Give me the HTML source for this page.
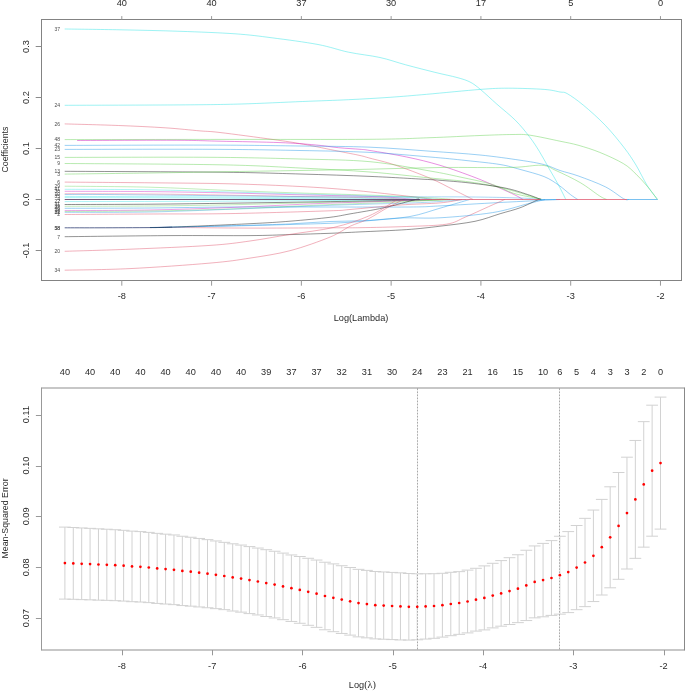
<!DOCTYPE html>
<html><head><meta charset="utf-8"><title>glmnet</title>
<style>html,body{margin:0;padding:0;background:#fff;}body{width:685px;height:691px;position:relative;overflow:hidden;font-family:"Liberation Sans",sans-serif;}</style>
</head><body>
<svg width="685" height="691" viewBox="0 0 685 691" style="position:absolute;left:0;top:0;will-change:transform"><rect x="0" y="0" width="685" height="691" fill="#fff"/><g stroke="#d2d2d2" stroke-width="1" fill="none"><path d="M64.90 527.10V599.10M59.00 527.10H70.80M59.00 599.10H70.80"/><path d="M73.29 527.49V599.31M67.39 527.49H79.19M67.39 599.31H79.19"/><path d="M81.68 527.98V599.62M75.78 527.98H87.58M75.78 599.62H87.58"/><path d="M90.07 528.37V599.83M84.17 528.37H95.97M84.17 599.83H95.97"/><path d="M98.46 528.85V600.15M92.56 528.85H104.36M92.56 600.15H104.36"/><path d="M106.84 529.24V600.36M100.94 529.24H112.75M100.94 600.36H112.75"/><path d="M115.23 529.73V600.67M109.33 529.73H121.13M109.33 600.67H121.13"/><path d="M123.62 530.32V601.08M117.72 530.32H129.52M117.72 601.08H129.52"/><path d="M132.01 531.11V601.69M126.11 531.11H137.91M126.11 601.69H137.91"/><path d="M140.40 531.60V602.00M134.50 531.60H146.30M134.50 602.00H146.30"/><path d="M148.79 532.38V602.62M142.89 532.38H154.69M142.89 602.62H154.69"/><path d="M157.18 533.37V603.43M151.28 533.37H163.08M151.28 603.43H163.08"/><path d="M165.57 534.16V604.04M159.67 534.16H171.47M159.67 604.04H171.47"/><path d="M173.96 534.95V604.65M168.06 534.95H179.86M168.06 604.65H179.86"/><path d="M182.35 536.25V605.55M176.45 536.25H188.25M176.45 605.55H188.25"/><path d="M190.74 537.25V606.15M184.84 537.25H196.64M184.84 606.15H196.64"/><path d="M199.12 538.45V606.95M193.22 538.45H205.02M193.22 606.95H205.02"/><path d="M207.51 539.65V607.75M201.61 539.65H213.41M201.61 607.75H213.41"/><path d="M215.90 540.95V608.65M210.00 540.95H221.80M210.00 608.65H221.80"/><path d="M224.29 542.35V609.65M218.39 542.35H230.19M218.39 609.65H230.19"/><path d="M232.68 543.80V611.00M226.78 543.80H238.58M226.78 611.00H238.58"/><path d="M241.07 545.05V612.15M235.17 545.05H246.97M235.17 612.15H246.97"/><path d="M249.46 546.60V613.60M243.56 546.60H255.36M243.56 613.60H255.36"/><path d="M257.85 548.05V614.95M251.95 548.05H263.75M251.95 614.95H263.75"/><path d="M266.24 549.70V616.50M260.34 549.70H272.14M260.34 616.50H272.14"/><path d="M274.62 551.25V617.95M268.73 551.25H280.52M268.73 617.95H280.52"/><path d="M283.01 553.10V619.70M277.11 553.10H288.91M277.11 619.70H288.91"/><path d="M291.40 554.95V621.45M285.50 554.95H297.30M285.50 621.45H297.30"/><path d="M299.79 556.52V623.28M293.89 556.52H305.69M293.89 623.28H305.69"/><path d="M308.18 558.29V625.31M302.28 558.29H314.08M302.28 625.31H314.08"/><path d="M316.57 560.06V627.34M310.67 560.06H322.47M310.67 627.34H322.47"/><path d="M324.96 562.23V629.77M319.06 562.23H330.86M319.06 629.77H330.86"/><path d="M333.35 563.90V631.70M327.45 563.90H339.25M327.45 631.70H339.25"/><path d="M341.74 565.74V633.46M335.84 565.74H347.64M335.84 633.46H347.64"/><path d="M350.13 567.49V635.11M344.23 567.49H356.03M344.23 635.11H356.03"/><path d="M358.51 569.33V636.87M352.62 569.33H364.41M352.62 636.87H364.41"/><path d="M366.90 570.38V637.83M361.00 570.38H372.80M361.00 637.83H372.80"/><path d="M375.29 571.52V638.88M369.39 571.52H381.19M369.39 638.88H381.19"/><path d="M383.68 571.96V639.24M377.78 571.96H389.58M377.78 639.24H389.58"/><path d="M392.07 572.41V639.59M386.17 572.41H397.97M386.17 639.59H397.97"/><path d="M400.46 572.85V639.95M394.56 572.85H406.36M394.56 639.95H406.36"/><path d="M408.85 573.52V640.07M402.95 573.52H414.75M402.95 640.07H414.75"/><path d="M417.24 573.80V639.80M411.34 573.80H423.14M411.34 639.80H423.14"/><path d="M425.63 573.75V639.05M419.73 573.75H431.53M419.73 639.05H431.53"/><path d="M434.02 573.70V638.30M428.12 573.70H439.92M428.12 638.30H439.92"/><path d="M442.40 573.30V637.10M436.50 573.30H448.30M436.50 637.10H448.30"/><path d="M450.79 572.30V635.70M444.89 572.30H456.69M444.89 635.70H456.69"/><path d="M459.18 571.65V634.35M453.28 571.65H465.08M453.28 634.35H465.08"/><path d="M467.57 570.10V632.90M461.67 570.10H473.47M461.67 632.90H473.47"/><path d="M475.96 568.30V631.10M470.06 568.30H481.86M470.06 631.10H481.86"/><path d="M484.35 565.90V629.90M478.45 565.90H490.25M478.45 629.90H490.25"/><path d="M492.74 563.30V627.90M486.84 563.30H498.64M486.84 627.90H498.64"/><path d="M501.13 560.60V626.20M495.23 560.60H507.03M495.23 626.20H507.03"/><path d="M509.52 557.70V624.50M503.62 557.70H515.42M503.62 624.50H515.42"/><path d="M517.91 554.75V622.65M512.01 554.75H523.81M512.01 622.65H523.81"/><path d="M526.29 550.25V620.55M520.39 550.25H532.19M520.39 620.55H532.19"/><path d="M534.68 545.95V617.85M528.78 545.95H540.58M528.78 617.85H540.58"/><path d="M543.07 543.40V616.80M537.17 543.40H548.97M537.17 616.80H548.97"/><path d="M551.46 540.60V615.40M545.56 540.60H557.36M545.56 615.40H557.36"/><path d="M559.85 536.25V614.15M553.95 536.25H565.75M553.95 614.15H565.75"/><path d="M568.24 531.60V612.60M562.34 531.60H574.14M562.34 612.60H574.14"/><path d="M576.63 525.50V609.70M570.73 525.50H582.53M570.73 609.70H582.53"/><path d="M585.02 518.35V606.65M579.12 518.35H590.92M579.12 606.65H590.92"/><path d="M593.41 510.05V601.55M587.51 510.05H599.31M587.51 601.55H599.31"/><path d="M601.80 499.40V595.00M595.90 499.40H607.70M595.90 595.00H607.70"/><path d="M610.18 486.80V587.80M604.28 486.80H616.08M604.28 587.80H616.08"/><path d="M618.57 472.50V579.30M612.67 472.50H624.47M612.67 579.30H624.47"/><path d="M626.96 457.20V569.00M621.06 457.20H632.86M621.06 569.00H632.86"/><path d="M635.35 440.45V558.35M629.45 440.45H641.25M629.45 558.35H641.25"/><path d="M643.74 421.65V547.15M637.84 421.65H649.64M637.84 547.15H649.64"/><path d="M652.13 405.20V536.20M646.23 405.20H658.03M646.23 536.20H658.03"/><path d="M660.52 397.10V529.10M654.62 397.10H666.42M654.62 529.10H666.42"/></g><path d="M417.5 388.0V650.0M559.5 388.0V650.0" stroke="#ececec" stroke-width="1"/><g stroke="#a8a8a8" stroke-width="1" stroke-dasharray="1.5 1.55" stroke-dashoffset="-0.45"><path d="M417.5 388.0V650.0M559.5 388.0V650.0"/></g><g fill="#ff0000"><circle cx="64.90" cy="563.10" r="1.35"/><circle cx="73.29" cy="563.40" r="1.35"/><circle cx="81.68" cy="563.80" r="1.35"/><circle cx="90.07" cy="564.10" r="1.35"/><circle cx="98.46" cy="564.50" r="1.35"/><circle cx="106.84" cy="564.80" r="1.35"/><circle cx="115.23" cy="565.20" r="1.35"/><circle cx="123.62" cy="565.70" r="1.35"/><circle cx="132.01" cy="566.40" r="1.35"/><circle cx="140.40" cy="566.80" r="1.35"/><circle cx="148.79" cy="567.50" r="1.35"/><circle cx="157.18" cy="568.40" r="1.35"/><circle cx="165.57" cy="569.10" r="1.35"/><circle cx="173.96" cy="569.80" r="1.35"/><circle cx="182.35" cy="570.90" r="1.35"/><circle cx="190.74" cy="571.70" r="1.35"/><circle cx="199.12" cy="572.70" r="1.35"/><circle cx="207.51" cy="573.70" r="1.35"/><circle cx="215.90" cy="574.80" r="1.35"/><circle cx="224.29" cy="576.00" r="1.35"/><circle cx="232.68" cy="577.40" r="1.35"/><circle cx="241.07" cy="578.60" r="1.35"/><circle cx="249.46" cy="580.10" r="1.35"/><circle cx="257.85" cy="581.50" r="1.35"/><circle cx="266.24" cy="583.10" r="1.35"/><circle cx="274.62" cy="584.60" r="1.35"/><circle cx="283.01" cy="586.40" r="1.35"/><circle cx="291.40" cy="588.20" r="1.35"/><circle cx="299.79" cy="589.90" r="1.35"/><circle cx="308.18" cy="591.80" r="1.35"/><circle cx="316.57" cy="593.70" r="1.35"/><circle cx="324.96" cy="596.00" r="1.35"/><circle cx="333.35" cy="597.80" r="1.35"/><circle cx="341.74" cy="599.60" r="1.35"/><circle cx="350.13" cy="601.30" r="1.35"/><circle cx="358.51" cy="603.10" r="1.35"/><circle cx="366.90" cy="604.10" r="1.35"/><circle cx="375.29" cy="605.20" r="1.35"/><circle cx="383.68" cy="605.60" r="1.35"/><circle cx="392.07" cy="606.00" r="1.35"/><circle cx="400.46" cy="606.40" r="1.35"/><circle cx="408.85" cy="606.80" r="1.35"/><circle cx="417.24" cy="606.80" r="1.35"/><circle cx="425.63" cy="606.40" r="1.35"/><circle cx="434.02" cy="606.00" r="1.35"/><circle cx="442.40" cy="605.20" r="1.35"/><circle cx="450.79" cy="604.00" r="1.35"/><circle cx="459.18" cy="603.00" r="1.35"/><circle cx="467.57" cy="601.50" r="1.35"/><circle cx="475.96" cy="599.70" r="1.35"/><circle cx="484.35" cy="597.90" r="1.35"/><circle cx="492.74" cy="595.60" r="1.35"/><circle cx="501.13" cy="593.40" r="1.35"/><circle cx="509.52" cy="591.10" r="1.35"/><circle cx="517.91" cy="588.70" r="1.35"/><circle cx="526.29" cy="585.40" r="1.35"/><circle cx="534.68" cy="581.90" r="1.35"/><circle cx="543.07" cy="580.10" r="1.35"/><circle cx="551.46" cy="578.00" r="1.35"/><circle cx="559.85" cy="575.20" r="1.35"/><circle cx="568.24" cy="572.10" r="1.35"/><circle cx="576.63" cy="567.60" r="1.35"/><circle cx="585.02" cy="562.50" r="1.35"/><circle cx="593.41" cy="555.80" r="1.35"/><circle cx="601.80" cy="547.20" r="1.35"/><circle cx="610.18" cy="537.30" r="1.35"/><circle cx="618.57" cy="525.90" r="1.35"/><circle cx="626.96" cy="513.10" r="1.35"/><circle cx="635.35" cy="499.40" r="1.35"/><circle cx="643.74" cy="484.40" r="1.35"/><circle cx="652.13" cy="470.70" r="1.35"/><circle cx="660.52" cy="463.10" r="1.35"/></g><path d="M64.70 29.00 C73.92 29.13 100.78 29.42 120.00 29.80 C139.22 30.18 160.83 30.63 180.00 31.30 C199.17 31.97 219.67 32.72 235.00 33.80 C250.33 34.88 258.17 36.02 272.00 37.80 C285.83 39.58 305.23 42.10 318.00 44.50 C330.77 46.90 338.27 50.03 348.60 52.20 C358.93 54.37 370.48 55.40 380.00 57.50 C389.52 59.60 396.37 62.28 405.70 64.80 C415.03 67.32 427.45 70.48 436.00 72.60 C444.55 74.72 451.33 75.93 457.00 77.50 C462.67 79.07 466.10 80.02 470.00 82.00 C473.90 83.98 475.93 85.72 480.40 89.40 C484.87 93.08 490.95 98.93 496.80 104.10 C502.65 109.27 510.05 114.95 515.50 120.40 C520.95 125.85 525.53 131.65 529.50 136.80 C533.47 141.95 536.07 146.07 539.30 151.30 C542.53 156.53 545.70 162.58 548.90 168.20 C552.10 173.82 555.68 179.78 558.50 185.00 C561.32 190.22 564.58 197.08 565.80 199.50" fill="none" stroke="#28E2E5" stroke-width="1.0" stroke-opacity="0.45" stroke-linejoin="round"/><path d="M64.70 105.30 C83.92 105.23 150.62 105.12 180.00 104.90 C209.38 104.68 220.57 104.57 241.00 104.00 C261.43 103.43 284.67 102.22 302.60 101.50 C320.53 100.78 334.03 100.40 348.60 99.70 C363.17 99.00 376.98 98.20 390.00 97.30 C403.02 96.40 411.63 95.62 426.70 94.30 C441.77 92.98 466.77 90.42 480.40 89.40 C494.03 88.38 497.88 88.20 508.50 88.20 C519.12 88.20 535.52 88.77 544.10 89.40 C552.68 90.03 556.15 91.30 560.00 92.00 C563.85 92.70 563.28 91.38 567.20 93.60 C571.12 95.82 577.15 100.02 583.50 105.30 C589.85 110.58 598.50 118.20 605.30 125.30 C612.10 132.40 619.18 141.27 624.30 147.90 C629.42 154.53 632.23 158.92 636.00 165.10 C639.77 171.28 643.32 179.27 646.90 185.00 C650.48 190.73 655.73 197.08 657.50 199.50" fill="none" stroke="#28E2E5" stroke-width="1.0" stroke-opacity="0.45" stroke-linejoin="round"/><path d="M64.70 123.90 C73.65 124.17 101.67 124.85 118.40 125.50 C135.13 126.15 151.47 126.90 165.10 127.80 C178.73 128.70 191.05 130.12 200.20 130.90 C209.35 131.68 207.87 131.07 220.00 132.50 C232.13 133.93 259.10 137.55 273.00 139.50 C286.90 141.45 292.48 142.25 303.40 144.20 C314.32 146.15 329.07 149.32 338.50 151.20 C347.93 153.08 354.75 154.33 360.00 155.50 C365.25 156.67 364.17 156.62 370.00 158.20 C375.83 159.78 385.00 161.67 395.00 165.00 C405.00 168.33 420.27 174.08 430.00 178.20 C439.73 182.32 446.77 186.42 453.40 189.70 C460.03 192.98 466.53 196.27 469.80 197.90 C473.07 199.53 472.47 199.23 473.00 199.50" fill="none" stroke="#DF536B" stroke-width="1.0" stroke-opacity="0.45" stroke-linejoin="round"/><path d="M64.70 139.60 C90.58 139.57 169.12 139.45 220.00 139.40 C270.88 139.35 335.00 139.58 370.00 139.30 C405.00 139.02 411.67 138.33 430.00 137.70 C448.33 137.07 466.17 136.03 480.00 135.50 C493.83 134.97 504.67 134.55 513.00 134.50 C521.33 134.45 522.17 134.08 530.00 135.20 C537.83 136.32 551.98 139.53 560.00 141.20 C568.02 142.87 571.47 143.33 578.10 145.20 C584.73 147.07 592.25 149.33 599.80 152.40 C607.35 155.47 617.37 159.98 623.40 163.60 C629.43 167.22 632.07 170.37 636.00 174.10 C639.93 177.83 643.42 181.77 647.00 186.00 C650.58 190.23 655.75 197.25 657.50 199.50" fill="none" stroke="#61D04F" stroke-width="1.0" stroke-opacity="0.45" stroke-linejoin="round"/><path d="M77.10 140.50 C93.72 140.47 152.98 140.18 176.80 140.30 C200.62 140.42 202.80 140.82 220.00 141.20 C237.20 141.58 264.17 141.98 280.00 142.60 C295.83 143.22 305.25 144.05 315.00 144.90 C324.75 145.75 331.00 146.97 338.50 147.70 C346.00 148.43 354.75 148.83 360.00 149.30 C365.25 149.77 362.22 149.22 370.00 150.50 C377.78 151.78 395.03 154.53 406.70 157.00 C418.37 159.47 428.62 161.88 440.00 165.30 C451.38 168.72 465.37 173.85 475.00 177.50 C484.63 181.15 491.13 184.28 497.80 187.20 C504.47 190.12 510.80 192.95 515.00 195.00 C519.20 197.05 521.67 198.75 523.00 199.50" fill="none" stroke="#CD0BBC" stroke-width="1.0" stroke-opacity="0.45" stroke-linejoin="round"/><path d="M64.70 145.40 C88.92 145.35 170.78 145.00 210.00 145.10 C249.22 145.20 273.33 145.65 300.00 146.00 C326.67 146.35 348.33 146.33 370.00 147.20 C391.67 148.07 411.67 149.90 430.00 151.20 C448.33 152.50 465.00 153.50 480.00 155.00 C495.00 156.50 509.32 158.60 520.00 160.20 C530.68 161.80 537.43 162.88 544.10 164.60 C550.77 166.32 554.33 168.62 560.00 170.50 C565.67 172.38 570.55 173.18 578.10 175.90 C585.65 178.62 597.75 183.02 605.30 186.80 C612.85 190.58 619.48 196.48 623.40 198.60 C627.32 200.72 627.90 199.35 628.80 199.50" fill="none" stroke="#2297E6" stroke-width="1.0" stroke-opacity="0.45" stroke-linejoin="round"/><path d="M64.70 149.40 C88.92 149.38 170.78 149.12 210.00 149.30 C249.22 149.48 273.33 149.98 300.00 150.50 C326.67 151.02 348.33 151.32 370.00 152.40 C391.67 153.48 414.00 155.65 430.00 157.00 C446.00 158.35 454.33 159.25 466.00 160.50 C477.67 161.75 491.00 163.02 500.00 164.50 C509.00 165.98 512.65 167.38 520.00 169.40 C527.35 171.42 537.68 174.00 544.10 176.60 C550.52 179.20 554.08 181.98 558.50 185.00 C562.92 188.02 567.38 192.28 570.60 194.70 C573.82 197.12 576.60 198.70 577.80 199.50" fill="none" stroke="#2297E6" stroke-width="1.0" stroke-opacity="0.45" stroke-linejoin="round"/><path d="M64.70 157.40 C88.92 157.38 170.78 157.03 210.00 157.30 C249.22 157.57 273.33 158.27 300.00 159.00 C326.67 159.73 348.33 159.70 370.00 161.70 C391.67 163.70 415.00 168.45 430.00 171.00 C445.00 173.55 449.57 174.75 460.00 177.00 C470.43 179.25 483.67 181.78 492.60 184.50 C501.53 187.22 506.03 190.97 513.60 193.30 C521.17 195.63 533.27 197.47 538.00 198.50 C542.73 199.53 541.33 199.33 542.00 199.50" fill="none" stroke="#61D04F" stroke-width="1.0" stroke-opacity="0.45" stroke-linejoin="round"/><path d="M64.70 163.50 C90.58 163.72 180.78 164.05 220.00 164.80 C259.22 165.55 275.00 166.80 300.00 168.00 C325.00 169.20 348.33 170.33 370.00 172.00 C391.67 173.67 413.33 176.33 430.00 178.00 C446.67 179.67 458.33 180.42 470.00 182.00 C481.67 183.58 490.50 185.33 500.00 187.50 C509.50 189.67 520.33 193.00 527.00 195.00 C533.67 197.00 537.83 198.75 540.00 199.50" fill="none" stroke="#61D04F" stroke-width="1.0" stroke-opacity="0.45" stroke-linejoin="round"/><path d="M64.70 171.30 C90.58 171.45 180.78 171.75 220.00 172.20 C259.22 172.65 275.00 173.30 300.00 174.00 C325.00 174.70 348.33 175.47 370.00 176.40 C391.67 177.33 418.33 178.95 430.00 179.60 C441.67 180.25 433.33 179.73 440.00 180.30 C446.67 180.87 459.17 181.72 470.00 183.00 C480.83 184.28 495.40 186.08 505.00 188.00 C514.60 189.92 521.60 192.58 527.60 194.50 C533.60 196.42 538.77 198.67 541.00 199.50" fill="none" stroke="#000000" stroke-width="1.0" stroke-opacity="0.42" stroke-linejoin="round"/><path d="M64.70 174.10 C78.92 173.92 124.12 173.38 150.00 173.00 C175.88 172.62 195.00 172.22 220.00 171.80 C245.00 171.38 275.00 170.93 300.00 170.50 C325.00 170.07 346.67 169.70 370.00 169.20 C393.33 168.70 416.67 167.78 440.00 167.50 C463.33 167.22 493.05 167.87 510.00 167.50 C526.95 167.13 534.02 164.78 541.70 165.30 C549.38 165.82 549.68 167.72 556.10 170.60 C562.52 173.48 572.97 178.38 580.20 182.60 C587.43 186.82 595.08 193.08 599.50 195.90 C603.92 198.72 605.50 198.90 606.70 199.50" fill="none" stroke="#61D04F" stroke-width="1.0" stroke-opacity="0.45" stroke-linejoin="round"/><path d="M64.70 182.10 C78.92 182.22 122.45 182.52 150.00 182.80 C177.55 183.08 205.00 183.18 230.00 183.80 C255.00 184.42 280.00 185.47 300.00 186.50 C320.00 187.53 333.00 188.50 350.00 190.00 C367.00 191.50 389.07 194.05 402.00 195.50 C414.93 196.95 422.60 198.03 427.60 198.70 C432.60 199.37 431.27 199.37 432.00 199.50" fill="none" stroke="#DF536B" stroke-width="1.0" stroke-opacity="0.45" stroke-linejoin="round"/><path d="M64.70 186.20 C78.92 186.37 122.45 186.48 150.00 187.20 C177.55 187.92 205.00 189.53 230.00 190.50 C255.00 191.47 275.00 192.17 300.00 193.00 C325.00 193.83 358.33 194.70 380.00 195.50 C401.67 196.30 417.50 197.13 430.00 197.80 C442.50 198.47 450.83 199.22 455.00 199.50" fill="none" stroke="#61D04F" stroke-width="1.0" stroke-opacity="0.38" stroke-linejoin="round"/><path d="M64.70 189.30 C78.92 189.38 122.45 189.35 150.00 189.80 C177.55 190.25 205.00 191.30 230.00 192.00 C255.00 192.70 275.00 193.30 300.00 194.00 C325.00 194.70 360.00 195.50 380.00 196.20 C400.00 196.90 410.00 197.65 420.00 198.20 C430.00 198.75 436.67 199.28 440.00 199.50" fill="none" stroke="#28E2E5" stroke-width="1.0" stroke-opacity="0.38" stroke-linejoin="round"/><path d="M64.70 191.30 C78.92 191.35 122.45 191.32 150.00 191.60 C177.55 191.88 205.00 192.47 230.00 193.00 C255.00 193.53 275.00 194.17 300.00 194.80 C325.00 195.43 360.83 196.02 380.00 196.80 C399.17 197.58 409.17 199.05 415.00 199.50" fill="none" stroke="#CD0BBC" stroke-width="1.0" stroke-opacity="0.38" stroke-linejoin="round"/><path d="M64.70 193.70 C78.92 193.75 122.45 193.75 150.00 194.00 C177.55 194.25 205.00 194.78 230.00 195.20 C255.00 195.62 275.00 196.03 300.00 196.50 C325.00 196.97 362.50 197.50 380.00 198.00 C397.50 198.50 400.83 199.25 405.00 199.50" fill="none" stroke="#DF536B" stroke-width="1.0" stroke-opacity="0.38" stroke-linejoin="round"/><path d="M64.70 194.50 C70.58 194.50 77.45 194.33 100.00 194.50 C122.55 194.67 160.00 195.10 200.00 195.50 C240.00 195.90 296.67 196.67 340.00 196.90 C383.33 197.13 430.00 196.72 460.00 196.90 C490.00 197.08 506.67 197.57 520.00 198.00 C533.33 198.43 536.67 199.25 540.00 199.50" fill="none" stroke="#2297E6" stroke-width="1.0" stroke-opacity="0.38" stroke-linejoin="round"/><path d="M64.70 196.40 C87.25 196.48 157.45 196.67 200.00 196.90 C242.55 197.13 288.33 197.48 320.00 197.80 C351.67 198.12 373.33 198.52 390.00 198.80 C406.67 199.08 415.00 199.38 420.00 199.50" fill="none" stroke="#28E2E5" stroke-width="1.0" stroke-opacity="0.38" stroke-linejoin="round"/><path d="M64.70 197.60 C87.25 197.67 160.78 197.80 200.00 198.00 C239.22 198.20 273.33 198.55 300.00 198.80 C326.67 199.05 350.00 199.38 360.00 199.50" fill="none" stroke="#28E2E5" stroke-width="1.0" stroke-opacity="0.38" stroke-linejoin="round"/><path d="M64.70 201.60 C87.25 201.55 157.45 201.47 200.00 201.30 C242.55 201.13 286.67 200.82 320.00 200.60 C353.33 200.38 381.67 200.18 400.00 200.00 C418.33 199.82 425.00 199.58 430.00 199.50" fill="none" stroke="#28E2E5" stroke-width="1.0" stroke-opacity="0.38" stroke-linejoin="round"/><path d="M64.70 204.50 C78.92 204.45 122.45 204.42 150.00 204.20 C177.55 203.98 201.67 203.60 230.00 203.20 C258.33 202.80 291.67 202.27 320.00 201.80 C348.33 201.33 378.33 200.78 400.00 200.40 C421.67 200.02 441.67 199.65 450.00 199.50" fill="none" stroke="#000000" stroke-width="1.0" stroke-opacity="0.45" stroke-linejoin="round"/><path d="M64.70 206.30 C78.92 206.25 122.45 206.25 150.00 206.00 C177.55 205.75 201.67 205.38 230.00 204.80 C258.33 204.22 291.67 203.13 320.00 202.50 C348.33 201.87 376.67 201.50 400.00 201.00 C423.33 200.50 450.00 199.75 460.00 199.50" fill="none" stroke="#61D04F" stroke-width="1.0" stroke-opacity="0.38" stroke-linejoin="round"/><path d="M64.70 208.30 C78.92 208.25 122.45 208.22 150.00 208.00 C177.55 207.78 201.67 207.17 230.00 207.00 C258.33 206.83 290.00 207.00 320.00 207.00 C350.00 207.00 390.00 207.18 410.00 207.00 C430.00 206.82 425.00 206.65 440.00 205.90 C455.00 205.15 480.00 203.57 500.00 202.50 C520.00 201.43 550.00 200.00 560.00 199.50" fill="none" stroke="#2297E6" stroke-width="1.0" stroke-opacity="0.45" stroke-linejoin="round"/><path d="M64.70 210.60 C78.92 210.50 122.45 210.52 150.00 210.00 C177.55 209.48 201.67 208.58 230.00 207.50 C258.33 206.42 295.00 204.50 320.00 203.50 C345.00 202.50 361.67 202.17 380.00 201.50 C398.33 200.83 421.67 199.83 430.00 199.50" fill="none" stroke="#CD0BBC" stroke-width="1.0" stroke-opacity="0.38" stroke-linejoin="round"/><path d="M64.70 211.50 C78.92 211.42 122.45 211.42 150.00 211.00 C177.55 210.58 201.67 210.00 230.00 209.00 C258.33 208.00 291.67 206.17 320.00 205.00 C348.33 203.83 379.17 202.92 400.00 202.00 C420.83 201.08 437.50 199.92 445.00 199.50" fill="none" stroke="#61D04F" stroke-width="1.0" stroke-opacity="0.38" stroke-linejoin="round"/><path d="M64.70 212.40 C78.92 212.33 119.12 212.65 150.00 212.00 C180.88 211.35 218.33 209.67 250.00 208.50 C281.67 207.33 313.33 205.92 340.00 205.00 C366.67 204.08 393.33 203.58 410.00 203.00 C426.67 202.42 430.67 202.08 440.00 201.50 C449.33 200.92 461.67 199.83 466.00 199.50" fill="none" stroke="#2297E6" stroke-width="1.0" stroke-opacity="0.38" stroke-linejoin="round"/><path d="M64.70 214.50 C78.92 214.42 122.45 214.15 150.00 214.00 C177.55 213.85 200.00 214.13 230.00 213.60 C260.00 213.07 310.00 211.48 330.00 210.80 C350.00 210.12 338.33 210.47 350.00 209.50 C361.67 208.53 385.00 206.10 400.00 205.00 C415.00 203.90 429.67 203.82 440.00 202.90 C450.33 201.98 458.33 200.07 462.00 199.50" fill="none" stroke="#DF536B" stroke-width="1.0" stroke-opacity="0.45" stroke-linejoin="round"/><path d="M64.70 227.80 C70.58 227.80 85.78 227.83 100.00 227.80 C114.22 227.77 138.00 227.70 150.00 227.60 C162.00 227.50 168.33 227.27 172.00 227.20" fill="none" stroke="#3e4c7e" stroke-width="1.0" stroke-opacity="0.85" stroke-linejoin="round"/><path d="M150.00 227.60 C153.33 227.57 153.33 227.32 170.00 227.40 C186.67 227.48 223.33 228.03 250.00 228.10 C276.67 228.17 311.67 227.87 330.00 227.80 C348.33 227.73 347.22 227.92 360.00 227.70 C372.78 227.48 392.30 227.08 406.70 226.50 C421.10 225.92 436.67 225.75 446.40 224.20 C456.13 222.65 458.08 220.12 465.10 217.20 C472.12 214.28 481.88 209.65 488.50 206.70 C495.12 203.75 502.08 200.70 504.80 199.50" fill="none" stroke="#DF536B" stroke-width="1.0" stroke-opacity="0.45" stroke-linejoin="round"/><path d="M150.00 227.50 C153.33 227.45 153.33 227.52 170.00 227.20 C186.67 226.88 230.00 226.05 250.00 225.60 C270.00 225.15 276.67 224.88 290.00 224.50 C303.33 224.12 318.33 223.80 330.00 223.30 C341.67 222.80 348.40 222.38 360.00 221.50 C371.60 220.62 386.27 218.62 399.60 218.00 C412.93 217.38 424.50 218.70 440.00 217.80 C455.50 216.90 478.00 214.93 492.60 212.60 C507.20 210.27 518.87 205.98 527.60 203.80 C536.33 201.62 542.10 200.22 545.00 199.50" fill="none" stroke="#2297E6" stroke-width="1.0" stroke-opacity="0.45" stroke-linejoin="round"/><path d="M150.00 227.50 C153.33 227.45 153.33 227.58 170.00 227.20 C186.67 226.82 230.00 225.75 250.00 225.20 C270.00 224.65 276.67 224.52 290.00 223.90 C303.33 223.28 316.67 222.08 330.00 221.50 C343.33 220.92 356.67 221.23 370.00 220.40 C383.33 219.57 398.33 218.53 410.00 216.50 C421.67 214.47 430.62 210.87 440.00 208.20 C449.38 205.53 461.30 201.95 466.30 200.50 C471.30 199.05 469.38 199.67 470.00 199.50" fill="none" stroke="#2297E6" stroke-width="1.0" stroke-opacity="0.45" stroke-linejoin="round"/><path d="M150.00 227.50 C153.33 227.45 153.33 227.83 170.00 227.20 C186.67 226.57 230.00 224.70 250.00 223.70 C270.00 222.70 276.67 222.27 290.00 221.20 C303.33 220.13 320.00 218.52 330.00 217.30 C340.00 216.08 341.03 215.48 350.00 213.90 C358.97 212.32 372.92 210.18 383.80 207.80 C394.68 205.42 409.60 200.98 415.30 199.60 C421.00 198.22 417.55 199.52 418.00 199.50" fill="none" stroke="#000000" stroke-width="1.0" stroke-opacity="0.42" stroke-linejoin="round"/><path d="M64.70 236.70 C82.25 236.52 139.12 235.78 170.00 235.60 C200.88 235.42 230.00 235.77 250.00 235.60 C270.00 235.43 276.67 234.98 290.00 234.60 C303.33 234.22 318.33 233.75 330.00 233.30 C341.67 232.85 347.22 232.52 360.00 231.90 C372.78 231.28 393.37 230.55 406.70 229.60 C420.03 228.65 428.62 227.58 440.00 226.20 C451.38 224.82 464.97 223.38 475.00 221.30 C485.03 219.22 492.70 215.95 500.20 213.70 C507.70 211.45 513.70 210.12 520.00 207.80 C526.30 205.48 534.50 201.18 538.00 199.80 C541.50 198.42 540.50 199.55 541.00 199.50" fill="none" stroke="#000000" stroke-width="1.0" stroke-opacity="0.42" stroke-linejoin="round"/><path d="M64.70 251.30 C75.58 250.95 105.78 250.18 130.00 249.20 C154.22 248.22 190.00 246.77 210.00 245.40 C230.00 244.03 236.67 242.83 250.00 241.00 C263.33 239.17 276.03 236.67 290.00 234.40 C303.97 232.13 320.67 230.47 333.80 227.40 C346.93 224.33 358.87 220.23 368.80 216.00 C378.73 211.77 388.70 204.75 393.40 202.00 C398.10 199.25 396.40 199.92 397.00 199.50" fill="none" stroke="#DF536B" stroke-width="1.0" stroke-opacity="0.45" stroke-linejoin="round"/><path d="M64.70 270.20 C75.58 269.93 105.78 269.78 130.00 268.60 C154.22 267.42 190.00 264.85 210.00 263.10 C230.00 261.35 236.67 260.17 250.00 258.10 C263.33 256.03 276.67 254.20 290.00 250.70 C303.33 247.20 319.97 241.18 330.00 237.10 C340.03 233.02 344.02 229.13 350.20 226.20 C356.38 223.27 360.78 222.65 367.10 219.50 C373.42 216.35 382.27 210.50 388.10 207.30 C393.93 204.10 399.45 201.60 402.10 200.30 C404.75 199.00 403.68 199.63 404.00 199.50" fill="none" stroke="#DF536B" stroke-width="1.0" stroke-opacity="0.45" stroke-linejoin="round"/><path d="M64.7 199.5H420" stroke="#5e3a63" stroke-opacity="0.85" stroke-width="1"/><path d="M420 199.5H540" stroke="#DF536B" stroke-opacity="0.75" stroke-width="1"/><path d="M540 199.5H556" stroke="#2297E6" stroke-opacity="0.6" stroke-width="1"/><path d="M556 199.5H627" stroke="#DF536B" stroke-opacity="0.75" stroke-width="1"/><path d="M627 199.5H657.5" stroke="#2297E6" stroke-opacity="0.6" stroke-width="1"/><g font-family="Liberation Sans" font-size="5" fill="#4a4a4a" text-anchor="end"><text x="60" y="30.8">37</text><text x="60" y="107.1">24</text><text x="60" y="125.7">26</text><text x="60" y="141.4">48</text><text x="60" y="147.2">42</text><text x="60" y="151.2">23</text><text x="60" y="159.2">15</text><text x="60" y="165.3">9</text><text x="60" y="173.1">13</text><text x="60" y="175.9">3</text><text x="60" y="183.9">6</text><text x="60" y="188.0">29</text><text x="60" y="191.1">41</text><text x="60" y="193.1">30</text><text x="60" y="195.8">10</text><text x="60" y="198.3">35</text><text x="60" y="201.1">4</text><text x="60" y="203.4">22</text><text x="60" y="206.3">31</text><text x="60" y="208.1">39</text><text x="60" y="210.1">46</text><text x="60" y="212.4">18</text><text x="60" y="213.6">21</text><text x="60" y="214.4">32</text><text x="60" y="216.3">2</text><text x="60" y="229.6">58</text><text x="60" y="230.0">38</text><text x="60" y="238.5">7</text><text x="60" y="253.1">20</text><text x="60" y="272.0">34</text></g><g stroke="#838383" stroke-width="1" fill="none"><rect x="41.5" y="19.5" width="640.0" height="261.0"/></g><g stroke="#8f8f8f" stroke-width="1" fill="none"><path d="M41.5 388.0H684.5M41.5 650.0H684.5"/><path d="M41.5 387.5V650.5" stroke="#999"/><path d="M684.5 387.5V650.5" stroke="#888"/></g><g stroke="#999" stroke-width="1" fill="none"><path d="M121.80 280.5v5.2"/><path d="M121.80 19.5v-3.4"/><path d="M211.58 280.5v5.2"/><path d="M211.58 19.5v-3.4"/><path d="M301.36 280.5v5.2"/><path d="M301.36 19.5v-3.4"/><path d="M391.14 280.5v5.2"/><path d="M391.14 19.5v-3.4"/><path d="M480.92 280.5v5.2"/><path d="M480.92 19.5v-3.4"/><path d="M570.70 280.5v5.2"/><path d="M570.70 19.5v-3.4"/><path d="M660.48 280.5v5.2"/><path d="M660.48 19.5v-3.4"/><path d="M41.5 250.5h-5.8" stroke="#8a8a8a"/><path d="M41.5 199.5h-5.8" stroke="#8a8a8a"/><path d="M41.5 148.5h-5.8" stroke="#8a8a8a"/><path d="M41.5 97.5h-5.8" stroke="#8a8a8a"/><path d="M41.5 46.5h-5.8" stroke="#8a8a8a"/><path d="M122.5 650.0v5.3" stroke="#979797"/><path d="M212.5 650.0v5.3" stroke="#979797"/><path d="M302.5 650.0v5.3" stroke="#979797"/><path d="M393.5 650.0v5.3" stroke="#979797"/><path d="M483.5 650.0v5.3" stroke="#979797"/><path d="M573.5 650.0v5.3" stroke="#979797"/><path d="M664.5 650.0v5.3" stroke="#979797"/><path d="M41.5 618.5h-5.6"/><path d="M41.5 567.5h-5.6"/><path d="M41.5 516.5h-5.6"/><path d="M41.5 466.5h-5.6"/><path d="M41.5 415.5h-5.6"/></g><g font-family="Liberation Sans, sans-serif" font-size="9.2" fill="#2a2a2a" text-anchor="middle"><text x="121.8" y="299.4">-8</text><text x="211.6" y="299.4">-7</text><text x="301.4" y="299.4">-6</text><text x="391.1" y="299.4">-5</text><text x="480.9" y="299.4">-4</text><text x="570.7" y="299.4">-3</text><text x="660.5" y="299.4">-2</text><text x="121.8" y="6.45">40</text><text x="211.6" y="6.45">40</text><text x="301.4" y="6.45">37</text><text x="391.1" y="6.45">30</text><text x="480.9" y="6.45">17</text><text x="570.7" y="6.45">5</text><text x="660.5" y="6.45">0</text><text transform="translate(29.2 250.5) rotate(-90)" x="0" y="0">-0.1</text><text transform="translate(29.2 199.5) rotate(-90)" x="0" y="0">0.0</text><text transform="translate(29.2 148.5) rotate(-90)" x="0" y="0">0.1</text><text transform="translate(29.2 97.5) rotate(-90)" x="0" y="0">0.2</text><text transform="translate(29.2 46.5) rotate(-90)" x="0" y="0">0.3</text><text x="361" y="321">Log(Lambda)</text><text transform="translate(7.9 149.6) rotate(-90)" font-size="8.85">Coefficients</text><text x="121.9" y="669.4">-8</text><text x="212.2" y="669.4">-7</text><text x="302.5" y="669.4">-6</text><text x="392.7" y="669.4">-5</text><text x="483.0" y="669.4">-4</text><text x="573.3" y="669.4">-3</text><text x="663.6" y="669.4">-2</text><text transform="translate(29.2 618.2) rotate(-90)">0.07</text><text transform="translate(29.2 567.3) rotate(-90)">0.08</text><text transform="translate(29.2 516.4) rotate(-90)">0.09</text><text transform="translate(29.2 465.5) rotate(-90)">0.10</text><text transform="translate(29.2 414.6) rotate(-90)">0.11</text><text transform="translate(7.8 518.5) rotate(-90)" font-size="8.8">Mean-Squared Error</text><text x="362.4" y="688" text-anchor="middle"><tspan>Log</tspan><tspan font-family="Liberation Serif, serif" font-size="10.2">(λ)</tspan></text><text x="64.9" y="375.2">40</text><text x="90.1" y="375.2">40</text><text x="115.2" y="375.2">40</text><text x="140.4" y="375.2">40</text><text x="165.6" y="375.2">40</text><text x="190.7" y="375.2">40</text><text x="215.9" y="375.2">40</text><text x="241.1" y="375.2">40</text><text x="266.2" y="375.2">39</text><text x="291.4" y="375.2">37</text><text x="316.6" y="375.2">37</text><text x="341.7" y="375.2">32</text><text x="366.9" y="375.2">31</text><text x="392.1" y="375.2">30</text><text x="417.2" y="375.2">24</text><text x="442.4" y="375.2">23</text><text x="467.6" y="375.2">21</text><text x="492.7" y="375.2">16</text><text x="517.9" y="375.2">15</text><text x="543.1" y="375.2">10</text><text x="559.9" y="375.2">6</text><text x="576.6" y="375.2">5</text><text x="593.4" y="375.2">4</text><text x="610.2" y="375.2">3</text><text x="627.0" y="375.2">3</text><text x="643.7" y="375.2">2</text><text x="660.5" y="375.2">0</text></g></svg>
</body></html>
